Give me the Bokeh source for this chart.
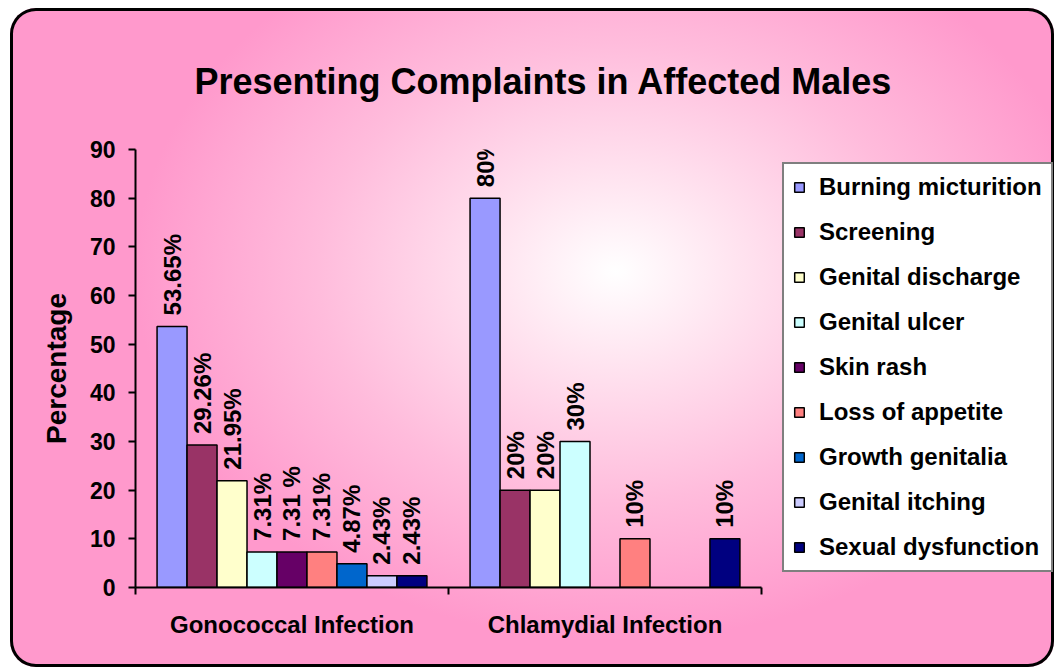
import math
from bokeh.plotting import figure
from bokeh.core.properties import value
from bokeh.models import (ColumnDataSource, Range1d, LinearAxis, FixedTicker,
                          Legend, LegendItem, LabelSet, Title)
from bokeh.embed import file_html
from bokeh.resources import INLINE

# ---------------- data ----------------
groups = ["Gonococcal Infection", "Chlamydial Infection"]
complaints = ["Burning micturition", "Screening", "Genital discharge",
              "Genital ulcer", "Skin rash", "Loss of appetite",
              "Growth genitalia", "Genital itching", "Sexual dysfunction"]
gonococcal = [53.65, 29.26, 21.95, 7.31, 7.31, 7.31, 4.87, 2.43, 2.43]
chlamydial = [80, 20, 20, 30, 0, 10, 0, 0, 10]
gonococcal_labels = ["53.65%", "29.26%", "21.95%", "7.31%", "7.31 %",
                     "7.31%", "4.87%", "2.43%", "2.43%"]
chlamydial_labels = ["80%", "20%", "20%", "30%", "", "10%", "", "", "10%"]
colors = ["#9999FF", "#993366", "#FFFFCC", "#CCFFFF", "#660066",
          "#FF8080", "#0066CC", "#CCCCFF", "#000080"]
y_ticks = [0, 10, 20, 30, 40, 50, 60, 70, 80, 90]
title_text = "Presenting Complaints in  Affected Males"
y_label = "Percentage"

# ---------------- style / layout ----------------
FONT = "Liberation Sans"
N = len(complaints)
BAR_W = 0.0958            # width of one bar in category units
FIG_W, FIG_H = 1044, 659
PLOT_W = 626              # pixel width of the bar area
EXTRA_W = 293             # legend area to the right of the bar area (inside frame)
LEFT, TOP, BOTTOM = 125, 141, 80

x_end = len(groups) * (PLOT_W + EXTRA_W) / PLOT_W

p = figure(width=FIG_W, height=FIG_H, output_backend="svg", toolbar_location=None,
           title_location=None,
           x_range=Range1d(0, x_end), y_range=Range1d(0, 90),
           x_axis_type=None, y_axis_type=None,
           min_border_left=LEFT, min_border_right=0,
           min_border_top=TOP, min_border_bottom=BOTTOM,
           border_fill_alpha=0, background_fill_alpha=0,
           outline_line_color=None,
           styles={
               "margin-left": "10px",
               "margin-top": "8px",
               "background": "radial-gradient(ellipse 46% 56% at 58% 40%, #ffffff 0%, #ffe4f0 25%, #ffbcdc 62%, #ff99cc 100%)",
               "border-radius": "26px",
               "box-shadow": "inset 0 0 0 3px #000000",
           })

title = Title(text=title_text, text_font=FONT, text_font_size="36px",
              text_font_style="bold", text_color="#000000",
              align="left", offset=59, standoff=95)
p.add_layout(title, "above")

# axes
yaxis = LinearAxis(ticker=FixedTicker(ticks=y_ticks), axis_label=y_label)
yaxis.axis_line_width = 2
yaxis.axis_line_color = "#000000"
yaxis.major_tick_line_width = 2
yaxis.major_tick_in = 0
yaxis.major_tick_out = 7
yaxis.minor_tick_line_color = None
yaxis.major_label_text_font = FONT
yaxis.major_label_text_font_style = "bold"
yaxis.major_label_text_font_size = "23px"
yaxis.major_label_text_color = "#000000"
yaxis.major_label_standoff = 13
yaxis.axis_label_text_font = FONT
yaxis.axis_label_text_font_style = "bold"
yaxis.axis_label_text_font_size = "28px"
yaxis.axis_label_text_color = "#000000"
yaxis.axis_label_standoff = 15
p.add_layout(yaxis, "left")

centers = [i + 0.5 for i in range(len(groups))]
bounds = [i for i in range(len(groups) + 1)]
xaxis = LinearAxis(ticker=FixedTicker(ticks=centers, minor_ticks=bounds),
                   bounds=(0, len(groups)),
                   major_label_overrides={c: g for c, g in zip(centers, groups)})
xaxis.axis_line_width = 2
xaxis.axis_line_color = "#000000"
xaxis.major_tick_line_color = None
xaxis.minor_tick_line_width = 2
xaxis.minor_tick_line_color = "#000000"
xaxis.minor_tick_in = 0
xaxis.minor_tick_out = 7
xaxis.major_label_text_font = FONT
xaxis.major_label_text_font_style = "bold"
xaxis.major_label_text_font_size = "24px"
xaxis.major_label_text_color = "#000000"
xaxis.major_label_standoff = 16
p.add_layout(xaxis, "below")

# bars
items = []
lab_x, lab_y, lab_t = [], [], []
for i, (name, col) in enumerate(zip(complaints, colors)):
    vals = [gonococcal[i], chlamydial[i]]
    texts = [gonococcal_labels[i], chlamydial_labels[i]]
    xs = [c + (i - (N - 1) / 2) * BAR_W for c in centers]
    tops = [v if v > 0 else float("nan") for v in vals]
    src = ColumnDataSource(dict(x=xs, top=tops))
    r = p.vbar(x="x", top="top", width=BAR_W, bottom=0, source=src,
               fill_color=col, line_color="#000000", line_width=1.5)
    items.append(LegendItem(label=name, renderers=[r]))
    for x, v, t in zip(xs, vals, texts):
        if v > 0 and t:
            lab_x.append(x)
            lab_y.append(v)
            lab_t.append(t)

lab_src = ColumnDataSource(dict(x=lab_x, y=lab_y, t=lab_t))
labels = LabelSet(x="x", y="y", text="t", source=lab_src, angle=math.pi / 2,
                  y_offset=11, text_align="left", text_baseline="middle",
                  text_font=value(FONT), text_font_style="bold",
                  text_font_size="24px", text_color="#000000")
p.add_layout(labels)

# legend in the frame, just to the right of the bar area
legend = Legend(items=items, location=(PLOT_W + 21, 15), ncols=1)
legend.label_text_font = FONT
legend.label_text_font_style = "bold"
legend.label_text_font_size = "24px"
legend.label_text_color = "#000000"
legend.glyph_width = 12
legend.glyph_height = 12
legend.label_height = 27
legend.label_standoff = 14
legend.spacing = 17
legend.padding = 9
legend.margin = 0
legend.border_line_color = "#000000"
legend.border_line_width = 2
legend.background_fill_color = "#ffffff"
legend.background_fill_alpha = 1
p.add_layout(legend)

open("out.html", "w").write(file_html(p, INLINE))
